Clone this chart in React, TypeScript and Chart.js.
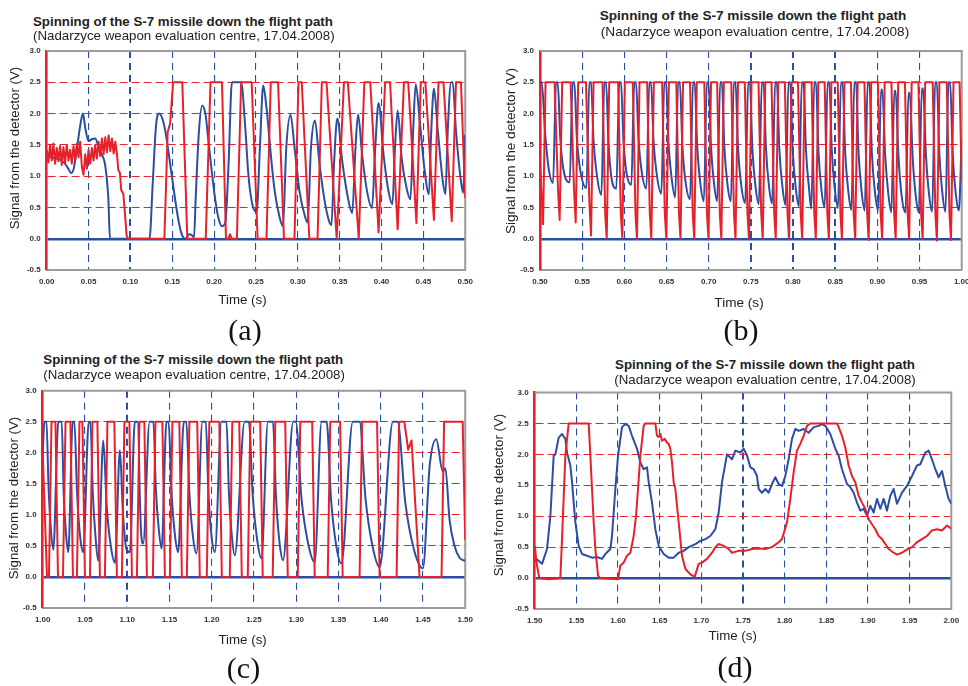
import React, { useEffect, useRef } from 'react';
import { Chart, registerables } from 'chart.js';

Chart.register(...registerables);

type Pt = [number, number];

const BLUE = '#2b4ea3';
const RED = '#e8202a';
const FRAME = '#9b9b9b';
const SANS = '"Liberation Sans", Arial, Helvetica, sans-serif';
const SERIF = '"Liberation Serif", "Times New Roman", serif';

const TITLE = 'Spinning of the S-7 missile down the flight path';
const SUBTITLE = '(Nadarzyce weapon evaluation centre, 17.04.2008)';
const Y_TITLE = 'Signal from the detector (V)';
const X_TITLE = 'Time (s)';
const Y_MIN = -0.5;
const Y_MAX = 3.0;
const Y_STEP = 0.5;
const X_STEP = 0.05;

// ---------- panel (a): 0.00 - 0.50 s ----------
const aRed: Pt[] = [[0,1.42],[0.002,1.22],[0.004,1.5],[0.006,1.25],[0.008,1.52],[0.01,1.2],[0.012,1.45],[0.014,1.24],[0.016,1.48],[0.018,1.18],[0.02,1.46],[0.022,1.22],[0.024,1.5],[0.026,1.25],[0.028,1.42],[0.03,1.2],[0.032,1.48],[0.034,1.26],[0.036,1.52],[0.038,1.3],[0.04,1.55],[0.042,1.15],[0.044,1.02],[0.046,1.35],[0.048,1.12],[0.05,1.42],[0.052,1.2],[0.054,1.45],[0.056,1.25],[0.058,1.5],[0.06,1.28],[0.062,1.55],[0.064,1.32],[0.066,1.6],[0.068,1.35],[0.07,1.62],[0.072,1.38],[0.074,1.65],[0.076,1.4],[0.078,1.6],[0.08,1.36],[0.082,1.55],[0.084,1.35],[0.0855,1.1],[0.0875,1.05],[0.089,0.78],[0.0915,0.72],[0.0935,0.4],[0.0955,0.05],[0.097,0],[0.1406,0],[0.1445,1.7],[0.1475,1.85],[0.151,2.5],[0.162,2.5],[0.168,0],[0.19,0],[0.1957,2.5],[0.2094,2.5],[0.2142,0],[0.217,0],[0.219,0.07],[0.221,0],[0.2272,0],[0.2323,2.5],[0.2449,2.5],[0.252,0],[0.2626,0],[0.2677,2.5],[0.2764,2.5],[0.2835,0],[0.296,0],[0.3008,2.5],[0.3047,2.5],[0.3138,0],[0.3236,0],[0.3287,2.5],[0.3343,2.5],[0.3465,0],[0.3551,2.5],[0.3598,2.5],[0.3728,0],[0.3795,2.5],[0.3866,2.5],[0.3965,0.1],[0.4043,2.5],[0.4102,2.5],[0.4193,0.15],[0.4268,2.5],[0.4319,2.5],[0.4417,0.25],[0.4469,2.5],[0.4524,2.5],[0.4626,0.3],[0.4681,2.5],[0.474,2.5],[0.4839,0.28],[0.489,2.5],[0.4949,2.5],[0.5,0.65]];

const aBlue: Pt[] = [[0,1.4],[0.0047,1.3],[0.0126,1.28],[0.0205,1.22],[0.0244,1.15],[0.0295,1.05],[0.0323,1.12],[0.0362,1.45],[0.0402,1.82],[0.0433,2.0],[0.0461,1.77],[0.05,1.56],[0.0539,1.59],[0.0579,1.6],[0.0618,1.48],[0.0657,1.35],[0.0697,1.19],[0.0736,0.65],[0.0756,0],[0.1228,0],[0.1268,0.92],[0.1307,1.82],[0.1346,2.0],[0.1386,1.9],[0.1425,1.66],[0.1465,1.29],[0.1504,0.92],[0.1543,0.55],[0.1583,0.23],[0.1622,0.04],[0.1661,0],[0.1701,0.07],[0.174,0.05],[0.176,0.02],[0.178,0.65],[0.1819,1.72],[0.1858,2.13],[0.1898,1.98],[0.1937,1.5],[0.1976,1.03],[0.2016,0.6],[0.2055,0.31],[0.2094,0.2],[0.2134,0.26],[0.2173,1.2],[0.2213,2.5],[0.2323,2.5],[0.237,1.82],[0.2409,1.03],[0.2449,0.6],[0.2488,0.44],[0.2508,0.43],[0.2547,1.45],[0.2587,2.45],[0.2626,2.09],[0.2685,1.24],[0.2724,0.76],[0.2783,0.34],[0.2823,0.2],[0.2862,1.45],[0.2913,1.98],[0.2961,1.45],[0.302,0.76],[0.3079,0.39],[0.3118,0.26],[0.3157,1.45],[0.3205,1.89],[0.3256,1.24],[0.3315,0.65],[0.3374,0.28],[0.3402,0.22],[0.3433,1.2],[0.3472,1.92],[0.3531,1.24],[0.3591,0.71],[0.365,0.41],[0.3689,1.45],[0.372,1.99],[0.3768,1.35],[0.3827,0.76],[0.3886,0.49],[0.3925,1.45],[0.3965,2.17],[0.4024,1.35],[0.4083,0.76],[0.413,0.55],[0.4161,1.45],[0.4193,2.05],[0.424,1.3],[0.4299,0.81],[0.4346,0.63],[0.4378,1.72],[0.4409,2.47],[0.4457,1.88],[0.4516,1.08],[0.4567,0.71],[0.4594,1.72],[0.4626,2.4],[0.4673,1.72],[0.4732,0.92],[0.4764,0.71],[0.4791,1.72],[0.4831,2.5],[0.485,2.5],[0.489,1.72],[0.4949,0.92],[0.4976,0.73],[0.5,1.66]];

// ---------- panel (b): 0.50 - 1.00 s ----------
const bRed: Pt[] = [[0.5,1.2],
[0.5036,0.23],[0.5066,2.5],[0.5173,2.5],[0.5213,0.8],
[0.5233,0.3],[0.5263,2.5],[0.5363,2.5],[0.5403,0.8],
[0.5423,0.26],[0.5453,2.5],[0.5545,2.5],[0.5585,0.6],
[0.5605,0.05],[0.5635,2.5],[0.5741,2.5],[0.5773,0.4],
[0.5791,0],[0.5821,2.5],[0.5926,2.5],[0.5958,0.4],
[0.5976,0.02],[0.6006,2.5],[0.61,2.5],[0.6132,0.4],
[0.615,0],[0.618,2.5],[0.627,2.5],[0.6302,0.4],
[0.632,0],[0.635,2.5],[0.6448,2.5],[0.648,0.4],
[0.6498,0],[0.6528,2.5],[0.6616,2.5],[0.6648,0.4],
[0.6666,0],[0.6696,2.5],[0.6779,2.5],[0.6811,0.4],
[0.6829,0],[0.6859,2.5],[0.6948,2.5],[0.698,0.4],
[0.6998,-0.01],[0.7028,2.5],[0.71,2.5],[0.7132,0.4],
[0.715,0],[0.718,2.5],[0.7268,2.5],[0.73,0.4],
[0.7318,0],[0.7348,2.5],[0.7428,2.5],[0.746,0.4],
[0.7478,0],[0.7508,2.5],[0.7591,2.5],[0.7623,0.4],
[0.7641,0],[0.7671,2.5],[0.7745,2.5],[0.7777,0.4],
[0.7795,0],[0.7825,2.5],[0.7903,2.5],[0.7935,0.4],
[0.7953,-0.01],[0.7983,2.5],[0.8059,2.5],[0.8091,0.4],
[0.8109,0],[0.8139,2.5],[0.822,2.5],[0.8252,0.4],
[0.827,0],[0.83,2.5],[0.8375,2.5],[0.8407,0.4],
[0.8425,0],[0.8455,2.5],[0.853,2.5],[0.8562,0.4],
[0.858,0],[0.861,2.5],[0.8687,2.5],[0.8719,0.4],
[0.8737,0],[0.8767,2.5],[0.8847,2.5],[0.8879,0.4],
[0.8897,-0.02],[0.8927,2.5],[0.9007,2.5],[0.9039,0.4],
[0.9057,0],[0.9087,2.5],[0.9167,2.5],[0.9199,0.4],
[0.9217,0],[0.9247,2.5],[0.9327,2.5],[0.9359,0.4],
[0.9377,0],[0.9407,2.5],[0.9487,2.5],[0.9519,0.4],
[0.9537,0],[0.9567,2.5],[0.9656,2.5],[0.9688,0.4],
[0.9706,-0.03],[0.9736,2.5],[0.9823,2.5],[0.9855,0.4],
[0.9873,-0.02],[0.9903,2.5],[0.9975,2.5],[1.0,0.9]];

const bBlue: Pt[] = [[0.5,2.5],[0.502,2.5],[0.506,1.7],[0.5105,1.1],
[0.5155,0.89],[0.519,2.5],[0.521,2.5],[0.524,1.62],[0.5275,1.13],
[0.5352,0.9],[0.5387,2.5],[0.5407,2.5],[0.5437,1.62],[0.5472,1.14],
[0.555,0.81],[0.5585,2.5],[0.5605,2.5],[0.5635,1.57],[0.567,1.06],
[0.5728,0.7],[0.5763,2.5],[0.5783,2.5],[0.5813,1.51],[0.5848,0.97],
[0.5905,0.8],[0.594,2.5],[0.596,2.5],[0.599,1.57],[0.6025,1.06],
[0.6083,0.86],[0.6118,2.5],[0.6138,2.5],[0.6168,1.6],[0.6203,1.1],
[0.6261,0.8],[0.6296,2.5],[0.6316,2.5],[0.6346,1.57],[0.6381,1.06],
[0.6439,0.72],[0.6474,2.5],[0.6494,2.5],[0.6524,1.52],[0.6559,0.99],
[0.6603,0.66],[0.6638,2.5],[0.6658,2.5],[0.6688,1.49],[0.6723,0.94],
[0.6779,0.63],[0.6814,2.5],[0.6834,2.5],[0.6864,1.47],[0.6899,0.91],
[0.6943,0.6],[0.6978,2.5],[0.6998,2.5],[0.7028,1.46],[0.7063,0.89],
[0.7101,0.6],[0.7136,2.5],[0.7156,2.5],[0.7186,1.46],[0.7221,0.89],
[0.7263,0.6],[0.7298,2.5],[0.7318,2.5],[0.7348,1.46],[0.7383,0.89],
[0.7433,0.57],[0.7468,2.5],[0.7488,2.5],[0.7518,1.44],[0.7553,0.86],
[0.7595,0.55],[0.763,2.5],[0.765,2.5],[0.768,1.43],[0.7715,0.84],
[0.7753,0.56],[0.7788,2.5],[0.7808,2.5],[0.7838,1.43],[0.7873,0.85],
[0.7911,0.54],[0.7946,2.5],[0.7966,2.5],[0.7996,1.42],[0.8031,0.83],
[0.8069,0.52],[0.8104,2.5],[0.8124,2.5],[0.8154,1.41],[0.8189,0.82],
[0.8217,0.48],[0.8252,2.5],[0.8272,2.5],[0.8302,1.39],[0.8337,0.78],
[0.8375,0.5],[0.841,2.5],[0.843,2.5],[0.846,1.4],[0.8495,0.8],
[0.8533,0.49],[0.8568,2.5],[0.8588,2.5],[0.8618,1.39],[0.8653,0.79],
[0.8692,0.46],[0.8727,2.5],[0.8747,2.5],[0.8777,1.38],[0.8812,0.77],
[0.885,0.45],[0.8885,2.5],[0.8905,2.5],[0.8935,1.37],[0.897,0.76],
[0.9008,0.45],[0.9043,2.38],[0.9058,2.38],[0.9093,1.33],[0.9128,0.74],
[0.9166,0.42],[0.9201,2.36],[0.9216,2.36],[0.9251,1.3],[0.9286,0.71],
[0.9334,0.42],[0.9369,2.33],[0.9384,2.33],[0.9419,1.29],[0.9454,0.7],
[0.9492,0.42],[0.9527,2.4],[0.9542,2.4],[0.9577,1.32],[0.9612,0.72],
[0.965,0.43],[0.9685,2.5],[0.9705,2.5],[0.9735,1.36],[0.977,0.74],
[0.9808,0.43],[0.9843,2.5],[0.9863,2.5],[0.9893,1.36],[0.9928,0.74],
[0.9966,0.45],[1.0,1.6]];

// ---------- panel (c): 1.00 - 1.50 s ----------
const cRed: Pt[] = [[1.0,2.0],[1.0051,0],[1.0074,0],[1.0104,2.5],[1.0151,2.5],[1.0181,0],[1.024,0],[1.027,2.5],[1.0328,2.5],[1.0358,0],[1.0405,0],[1.0435,2.5],[1.047,2.5],[1.05,0],[1.0559,0],[1.0589,2.5],[1.0647,2.5],[1.0677,0],[1.0736,0],[1.0766,2.5],[1.0848,2.5],[1.0878,0],[1.0937,0],[1.0967,2.5],[1.1026,2.5],[1.1056,0],[1.1115,0],[1.1145,2.5],[1.1203,2.5],[1.1233,0],[1.1304,0],[1.1334,2.5],[1.1416,2.5],[1.1446,0],[1.1505,0],[1.1535,2.5],[1.1617,2.5],[1.1647,0],[1.1706,0],[1.1736,2.5],[1.1829,2.5],[1.1859,0],[1.1942,0],[1.1972,2.5],[1.209,2.5],[1.212,0],[1.2214,0],[1.2244,2.5],[1.2326,2.5],[1.2356,0],[1.2427,0],[1.2457,2.5],[1.2574,2.5],[1.2604,0],[1.2722,0],[1.2752,2.5],[1.287,2.5],[1.29,0],[1.3018,0],[1.3048,2.5],[1.3189,2.5],[1.3219,0],[1.3373,0],[1.3403,2.5],[1.352,2.5],[1.355,0],[1.375,0],[1.378,2.5],[1.3957,2.5],[1.3987,0],[1.4188,0],[1.4218,2.5],[1.428,2.5],[1.4325,2.05],[1.4365,2.2],[1.446,0],[1.472,0],[1.475,2.5],[1.497,2.5],[1.5,0.6]];

const cBlue: Pt[] = [[1.0,2.0],[1.002,2.5],[1.0045,2.5],[1.0068,1.5],[1.0095,0.8],
[1.0126,0.44],[1.0185,2.5],[1.0225,2.5],[1.0248,1.36],[1.0276,0.69],
[1.0303,0.4],[1.0355,2.5],[1.0375,2.5],[1.0407,1.34],[1.0443,0.65],
[1.048,0.4],[1.0545,2.5],[1.0565,2.5],[1.0593,1.35],[1.0625,0.65],
[1.0657,0.26],[1.0717,2.2],[1.0758,1.13],[1.0807,0.49],
[1.0855,0.23],[1.0914,2.04],[1.0949,1.04],[1.0991,0.45],
[1.1032,0.4],[1.109,2.5],[1.113,2.5],[1.1148,1.35],[1.1168,0.65],
[1.1189,0.54],[1.1265,2.5],[1.131,2.5],[1.1339,1.42],[1.1373,0.78],
[1.1407,0.46],[1.1465,2.5],[1.149,2.5],[1.1524,1.38],[1.1563,0.7],
[1.1603,0.4],[1.167,2.5],[1.17,2.5],[1.1736,1.35],[1.1778,0.65],
[1.182,0.38],[1.189,2.5],[1.193,2.5],[1.1962,1.33],[1.2,0.63],
[1.2037,0.4],[1.2115,2.5],[1.2175,2.5],[1.2204,1.35],[1.2239,0.65],
[1.2273,0.35],[1.239,2.5],[1.244,2.5],[1.2485,1.32],[1.2537,0.61],
[1.2589,0.3],[1.2665,2.5],[1.2725,2.5],[1.2761,1.29],[1.2802,0.56],
[1.2844,0.27],[1.2965,2.5],[1.2995,2.5],[1.3062,1.27],[1.3141,0.54],
[1.3219,0.24],[1.33,2.5],[1.336,2.5],[1.3412,1.26],[1.3473,0.51],
[1.3534,0.22],[1.367,2.5],[1.375,2.5],[1.3821,1.25],[1.3904,0.49],
[1.3987,0.16],[1.4145,2.5],[1.42,2.5],[1.429,1.21],[1.4394,0.44],
[1.4499,0.14],[1.458,1.8],[1.4657,2.22],[1.4735,1.7],[1.4765,1.75],[1.4815,0.92],[1.4874,0.5],[1.4933,0.31],[1.5,0.26]];

// ---------- panel (d): 1.50 - 2.00 s ----------
const dRed: Pt[] = [[1.5,0.52],[1.5028,0.2],[1.5056,0],[1.5168,-0.02],[1.5308,0],[1.5328,0.63],[1.5368,1.98],[1.5408,2.5],[1.5648,2.5],[1.5668,1.98],[1.5688,1.44],[1.5708,0.9],[1.5728,0.47],[1.576,0.04],[1.5788,0],[1.6,-0.02],[1.6028,0.2],[1.6068,0.25],[1.6108,0.36],[1.6148,0.41],[1.6188,0.68],[1.6216,1.0],[1.624,1.44],[1.6268,1.98],[1.6308,2.46],[1.6328,2.5],[1.6448,2.5],[1.6468,2.3],[1.6488,2.28],[1.6508,2.33],[1.6528,2.22],[1.656,2.25],[1.6588,2.19],[1.6608,2.17],[1.6628,2.09],[1.6648,1.87],[1.6668,1.55],[1.6688,1.44],[1.6728,0.9],[1.6768,0.36],[1.6808,0.15],[1.6868,0.06],[1.692,0.02],[1.6968,0.23],[1.7008,0.25],[1.7068,0.31],[1.7128,0.41],[1.7168,0.5],[1.7208,0.55],[1.7268,0.52],[1.7328,0.47],[1.7368,0.41],[1.7448,0.44],[1.7528,0.44],[1.7608,0.47],[1.7688,0.48],[1.7768,0.47],[1.7848,0.5],[1.7928,0.58],[1.7968,0.63],[1.8028,0.9],[1.8068,1.28],[1.8108,1.71],[1.8148,2.06],[1.8188,2.17],[1.8228,2.3],[1.8268,2.46],[1.8308,2.5],[1.8628,2.5],[1.8648,2.44],[1.8688,2.3],[1.8728,2.11],[1.8768,1.82],[1.8808,1.65],[1.8848,1.55],[1.8888,1.33],[1.8928,1.22],[1.8968,1.12],[1.9008,0.95],[1.9048,0.87],[1.9088,0.79],[1.9128,0.68],[1.9168,0.63],[1.9208,0.55],[1.9248,0.47],[1.9308,0.41],[1.9348,0.38],[1.9408,0.41],[1.9468,0.46],[1.9528,0.5],[1.9588,0.58],[1.9648,0.63],[1.9708,0.68],[1.9768,0.77],[1.9828,0.79],[1.9888,0.77],[1.9948,0.85],[2.0,0.8]];

const dBlue: Pt[] = [[1.5,0.28],[1.5028,0.3],[1.5088,0.23],[1.5108,0.31],[1.5148,0.47],[1.5188,1.0],[1.5228,1.98],[1.5248,2.0],[1.5288,2.27],[1.5328,2.33],[1.5368,2.25],[1.5388,2.03],[1.5428,1.82],[1.5448,1.55],[1.5488,0.9],[1.5528,0.52],[1.5568,0.39],[1.5628,0.36],[1.5688,0.33],[1.5748,0.34],[1.5808,0.31],[1.5848,0.39],[1.5908,0.47],[1.5928,0.68],[1.5968,1.44],[1.6,1.98],[1.6048,2.44],[1.6088,2.49],[1.6128,2.46],[1.6168,2.3],[1.6228,2.09],[1.6268,1.87],[1.6308,1.76],[1.6348,1.79],[1.6368,1.55],[1.6408,1.22],[1.6448,0.79],[1.6488,0.52],[1.6548,0.39],[1.6608,0.33],[1.6668,0.33],[1.6728,0.41],[1.6788,0.44],[1.6848,0.5],[1.6928,0.55],[1.6988,0.6],[1.7048,0.63],[1.7108,0.68],[1.7168,0.79],[1.7208,1.06],[1.7248,1.55],[1.7308,2.0],[1.7368,1.92],[1.7408,2.06],[1.7468,2.03],[1.7508,2.09],[1.7548,1.98],[1.7588,1.79],[1.7628,1.76],[1.7668,1.65],[1.7688,1.44],[1.7728,1.38],[1.7768,1.44],[1.7808,1.38],[1.7848,1.52],[1.7888,1.63],[1.7928,1.52],[1.7968,1.49],[1.8008,1.65],[1.8048,1.92],[1.8088,2.25],[1.8128,2.41],[1.8168,2.38],[1.8228,2.41],[1.8288,2.35],[1.8348,2.44],[1.8408,2.46],[1.8448,2.49],[1.8488,2.46],[1.8548,2.33],[1.8608,2.09],[1.8648,1.98],[1.8688,1.76],[1.8748,1.52],[1.8788,1.47],[1.8828,1.38],[1.8868,1.22],[1.8908,1.09],[1.8948,1.12],[1.8988,1.01],[1.9028,1.17],[1.9068,1.06],[1.9108,1.28],[1.9148,1.12],[1.9188,1.28],[1.9228,1.09],[1.9268,1.33],[1.9308,1.44],[1.9348,1.2],[1.9408,1.38],[1.9468,1.49],[1.9528,1.65],[1.9588,1.82],[1.9628,1.84],[1.9688,2.03],[1.9728,2.06],[1.9768,1.92],[1.9808,1.76],[1.9848,1.63],[1.9888,1.73],[1.9928,1.49],[1.9968,1.28],[2.0,1.2]];

interface Box { x: number; y: number; w: number; h: number }
interface Plot { l: number; r: number; t: number; b: number }
interface PanelSpec {
  id: string;
  xMin: number;
  xMax: number;
  red: Pt[];
  blue: Pt[];
  smoothBlue: boolean;
  canvas: Box;
  plot: Plot;
  thick: number[];
}

const panels: PanelSpec[] = [
  { id: 'a', xMin: 0, xMax: 0.5, red: aRed, blue: aBlue, smoothBlue: true,
    canvas: { x: 0, y: 40, w: 480, h: 260 }, plot: { l: 46.7, r: 470, t: 51, b: 270 }, thick: [0.1] },
  { id: 'b', xMin: 0.5, xMax: 1.0, red: bRed, blue: bBlue, smoothBlue: true,
    canvas: { x: 492, y: 40, w: 490, h: 260 }, plot: { l: 540, r: 961.7, t: 51, b: 270 }, thick: [0.75, 0.8, 0.85] },
  { id: 'c', xMin: 1.0, xMax: 1.5, red: cRed, blue: cBlue, smoothBlue: true,
    canvas: { x: 0, y: 380, w: 480, h: 262 }, plot: { l: 42.7, r: 465.7, t: 389.5, b: 608 }, thick: [1.1] },
  { id: 'd', xMin: 1.5, xMax: 2.0, red: dRed, blue: dBlue, smoothBlue: false,
    canvas: { x: 492, y: 380, w: 476, h: 262 }, plot: { l: 534.7, r: 951.3, t: 392.5, b: 609 }, thick: [1.75] },
];

const near = (a: number, b: number) => Math.abs(a - b) < 1e-6;

const framePlugin = {
  id: 'frame',
  beforeDatasetsDraw(chart: any) {
    const { ctx, chartArea } = chart;
    const { left, right, top, bottom } = chartArea;
    ctx.save();
    ctx.strokeStyle = FRAME;
    ctx.lineWidth = 2;
    ctx.beginPath();
    ctx.moveTo(left, top);
    ctx.lineTo(right, top);
    ctx.lineTo(right, bottom);
    ctx.stroke();
    ctx.restore();
  },
};

function PanelChart({ spec }: { spec: PanelSpec }) {
  const ref = useRef<HTMLCanvasElement | null>(null);
  useEffect(() => {
    const canvas = ref.current;
    if (!canvas) return;
    const { canvas: cv, plot, xMin, xMax, thick } = spec;
    const yAxisWidth = plot.l - cv.x;
    const xAxisHeight = cv.y + cv.h - plot.b;
    const tickFont = { family: SANS, size: 8, weight: 'bold' as const };
    const chart = new Chart(canvas, {
      type: 'line',
      data: {
        datasets: [
          {
            data: spec.red.map(([x, y]) => ({ x, y })),
            borderColor: RED,
            borderWidth: 2,
            pointRadius: 0,
            tension: 0,
            borderJoinStyle: 'round',
            order: 0,
          },
          {
            data: spec.blue.map(([x, y]) => ({ x, y })),
            borderColor: BLUE,
            borderWidth: 2,
            pointRadius: 0,
            tension: 0,
            cubicInterpolationMode: spec.smoothBlue ? 'monotone' : 'default',
            borderJoinStyle: 'round',
            order: 1,
          },
        ],
      },
      options: {
        responsive: false,
        animation: false,
        devicePixelRatio: 1,
        events: [],
        layout: {
          padding: { top: plot.t - cv.y, right: cv.x + cv.w - plot.r, left: 0, bottom: 0 },
        },
        plugins: {
          legend: { display: false },
          tooltip: { enabled: false },
          title: { display: false },
        },
        scales: {
          x: {
            type: 'linear',
            min: xMin,
            max: xMax,
            afterFit: (s: any) => { s.height = xAxisHeight; },
            ticks: {
              stepSize: X_STEP,
              autoSkip: false,
              maxRotation: 0,
              padding: 7,
              color: '#333',
              font: tickFont,
              callback: (v: any) => Number(v).toFixed(2),
            },
            grid: {
              drawTicks: false,
              color: (ctx: any) => {
                const v = ctx.tick ? ctx.tick.value : undefined;
                if (v === undefined || near(v, xMin) || near(v, xMax)) return 'rgba(0,0,0,0)';
                return BLUE;
              },
              lineWidth: (ctx: any) => {
                const v = ctx.tick ? ctx.tick.value : NaN;
                return thick.some((t) => near(t, v)) ? 2 : 1.1;
              },
            },
            border: {
              display: true,
              color: FRAME,
              width: 2,
              dash: (ctx: any) => (ctx.tick ? [7, 5] : []),
            },
          },
          y: {
            type: 'linear',
            min: Y_MIN,
            max: Y_MAX,
            afterFit: (s: any) => { s.width = yAxisWidth; },
            ticks: {
              stepSize: Y_STEP,
              padding: 6,
              color: '#333',
              font: tickFont,
              callback: (v: any) => Number(v).toFixed(1),
            },
            grid: {
              drawTicks: false,
              color: (ctx: any) => {
                const v = ctx.tick ? ctx.tick.value : undefined;
                if (v === undefined || near(v, Y_MIN) || near(v, Y_MAX)) return 'rgba(0,0,0,0)';
                if (near(v, 0)) return BLUE;
                return RED;
              },
              lineWidth: (ctx: any) => (ctx.tick && near(ctx.tick.value, 0) ? 2.4 : 1.1),
            },
            border: {
              display: true,
              color: RED,
              width: 2.6,
              dash: (ctx: any) => (ctx.tick && !near(ctx.tick.value, 0) ? [8, 4] : []),
            },
          },
        },
      } as any,
      plugins: [framePlugin],
    });
    return () => chart.destroy();
  }, [spec]);
  const { x, y, w, h } = spec.canvas;
  return (
    <canvas
      ref={ref}
      width={w}
      height={h}
      style={{ position: 'absolute', left: x, top: y, width: w, height: h }}
    />
  );
}

interface TextItem {
  text: string;
  x: number;
  top: number;
  size: number;
  bold?: boolean;
  align: 'left' | 'center';
  serif?: boolean;
}

interface RotItem { text: string; cx: number; cy: number; size: number }

const texts: TextItem[] = [
  // (a)
  { text: TITLE, x: 33, top: 14.7, size: 13.3, bold: true, align: 'left' },
  { text: SUBTITLE, x: 33, top: 28.7, size: 13.3, align: 'left' },
  { text: X_TITLE, x: 242.5, top: 292.7, size: 13.3, align: 'center' },
  { text: '(a)', x: 245, top: 315, size: 30, align: 'center', serif: true },
  // (b)
  { text: TITLE, x: 753, top: 9.2, size: 13.6, bold: true, align: 'center' },
  { text: SUBTITLE, x: 755, top: 24.5, size: 13.6, align: 'center' },
  { text: X_TITLE, x: 739, top: 295.5, size: 13.6, align: 'center' },
  { text: '(b)', x: 741, top: 315, size: 30, align: 'center', serif: true },
  // (c)
  { text: TITLE, x: 43.3, top: 353, size: 13.3, bold: true, align: 'left' },
  { text: SUBTITLE, x: 43.3, top: 367.7, size: 13.3, align: 'left' },
  { text: X_TITLE, x: 242.6, top: 632.7, size: 13.3, align: 'center' },
  { text: '(c)', x: 243.5, top: 653, size: 30, align: 'center', serif: true },
  // (d)
  { text: TITLE, x: 765, top: 358, size: 13.3, bold: true, align: 'center' },
  { text: SUBTITLE, x: 765, top: 373, size: 13.3, align: 'center' },
  { text: X_TITLE, x: 732.7, top: 628.7, size: 13.3, align: 'center' },
  { text: '(d)', x: 735, top: 651.5, size: 30, align: 'center', serif: true },
];

const rotTexts: RotItem[] = [
  { text: Y_TITLE, cx: 15, cy: 148, size: 13.3 },
  { text: Y_TITLE, cx: 511, cy: 151, size: 13.6 },
  { text: Y_TITLE, cx: 14, cy: 497.5, size: 13.3 },
  { text: Y_TITLE, cx: 499, cy: 495, size: 13.3 },
];

export default function App() {
  return (
    <div
      style={{
        position: 'absolute',
        left: 0,
        top: 0,
        width: 968,
        height: 686,
        overflow: 'hidden',
        background: '#ffffff',
      }}
    >
      {panels.map((p) => (
        <PanelChart key={p.id} spec={p} />
      ))}
      {texts.map((t, i) => (
        <div
          key={'t' + i}
          style={{
            position: 'absolute',
            left: t.x,
            top: t.top,
            transform: t.align === 'center' ? 'translateX(-50%)' : undefined,
            fontFamily: t.serif ? SERIF : SANS,
            fontSize: t.size,
            fontWeight: t.bold ? 'bold' : 'normal',
            lineHeight: 1,
            whiteSpace: 'nowrap',
            color: t.serif ? '#111' : '#222',
          }}
        >
          {t.text}
        </div>
      ))}
      {rotTexts.map((t, i) => (
        <div
          key={'r' + i}
          style={{
            position: 'absolute',
            left: t.cx,
            top: t.cy,
            transform: 'translate(-50%, -50%) rotate(-90deg)',
            fontFamily: SANS,
            fontSize: t.size,
            lineHeight: 1,
            whiteSpace: 'nowrap',
            color: '#222',
          }}
        >
          {t.text}
        </div>
      ))}
    </div>
  );
}
